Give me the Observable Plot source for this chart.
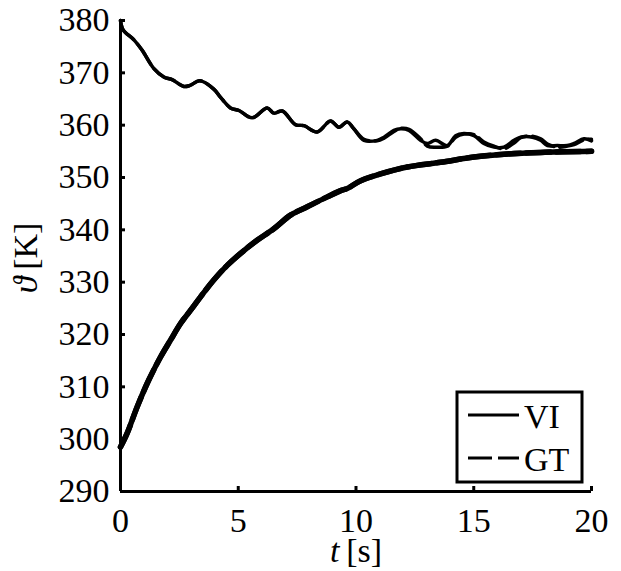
<!DOCTYPE html>
<html>
<head>
<meta charset="utf-8">
<script src="https://cdn.jsdelivr.net/npm/d3@7"></script>
<script src="https://cdn.jsdelivr.net/npm/@observablehq/plot@0.6"></script>
<style>
  html, body { margin: 0; padding: 0; background: #fff; }
  #chart svg { display: block; }
</style>
</head>
<body>
<div id="chart"></div>
<script>
// ---- data ----
const xTicks = [0, 5, 10, 15, 20];
const yTicks = [290, 300, 310, 320, 330, 340, 350, 360, 370, 380];
const xLabel = "t [s]";
const yLabel = "ϑ [K]";
const seriesNames = ["VI", "GT"];

// upper curve (hot body)
const tUpper = [0, 0.11, 0.57, 0.92, 1.42, 1.84, 2.19, 2.69, 2.95, 3.37, 3.96, 4.25, 4.67, 5.03, 5.59, 6.23, 6.51, 6.87, 7.43, 7.79, 8.35, 8.92, 9.27, 9.63, 9.91, 10.34, 10.9, 11.19, 11.61, 11.9, 12.25, 12.74, 13.03, 13.38, 13.88, 14.23, 14.58, 15.01, 15.43, 15.86, 16.28, 16.71, 16.99, 17.49, 17.84, 18.13, 18.55, 18.97, 19.26, 19.68, 20];
const viUpper = [380, 378.2, 376.3, 374.3, 370.8, 369.2, 368.7, 367.4, 367.6, 368.5, 366.9, 365.3, 363.3, 362.8, 361.4, 363.3, 362.3, 362.7, 360.1, 359.9, 358.7, 360.8, 359.6, 360.6, 359.3, 357.1, 357.1, 357.7, 359.0, 359.3, 359.0, 357.1, 356.5, 357.1, 356.1, 358.0, 358.4, 358.0, 356.5, 355.8, 355.8, 357.1, 357.7, 357.7, 357.1, 356.1, 356.1, 356.1, 356.5, 357.4, 357.0];
const gtUpper = [380, 378.2, 376.3, 374.3, 370.8, 369.2, 368.7, 367.4, 367.6, 368.5, 366.9, 365.3, 363.3, 362.8, 361.4, 363.3, 362.3, 362.7, 360.1, 359.9, 358.7, 360.8, 359.6, 360.6, 359.3, 357.3, 357.0, 357.5, 358.8, 359.4, 359.2, 357.4, 356.0, 355.8, 356.0, 357.7, 358.3, 358.2, 356.8, 356.0, 355.5, 356.6, 357.6, 357.9, 357.4, 356.4, 355.8, 356.0, 356.3, 357.2, 357.3];

// lower curve (cold body)
const tLower = [0, 0.28, 0.71, 1.2, 1.7, 2.12, 2.55, 2.97, 3.4, 3.96, 4.53, 5.1, 5.8, 6.51, 7.22, 7.93, 8.78, 9.35, 9.63, 10.2, 11.04, 12.18, 13.59, 15.01, 16.43, 17.84, 20];
const viLower = [298.5, 301.1, 306.2, 311.3, 315.7, 318.9, 322.1, 324.6, 327.2, 330.4, 333.2, 335.5, 338.0, 340.2, 342.8, 344.4, 346.3, 347.5, 347.9, 349.4, 350.7, 352.0, 352.9, 353.9, 354.5, 354.8, 355.0];
const gtLower = [298.5, 301.1, 306.2, 311.3, 315.7, 318.9, 322.1, 324.6, 327.2, 330.4, 333.2, 335.5, 338.0, 340.2, 342.8, 344.4, 346.3, 347.5, 347.9, 349.4, 350.7, 352.0, 352.9, 353.9, 354.5, 354.8, 355.0];

const toRows = (ts, vs) => ts.map((t, i) => ({t, v: vs[i]}));
const FONT = "Liberation Serif";

const plot = Plot.plot({
  width: 621,
  height: 571,
  marginLeft: 120,
  marginRight: 30,
  marginTop: 20,
  marginBottom: 80,
  style: {fontFamily: FONT, fontSize: "34px", background: "#fff", color: "#000"},
  x: {domain: [0, 20]},
  y: {domain: [290, 380]},
  marks: [
    Plot.line(toRows(tLower, viLower), {x: "t", y: "v", stroke: "#000", strokeWidth: 5.5, curve: "catmull-rom"}),
    Plot.line(toRows(tLower, gtLower), {x: "t", y: "v", stroke: "#000", strokeWidth: 5.5, strokeDasharray: "24,6", curve: "catmull-rom"}),
    Plot.line(toRows(tUpper, viUpper), {x: "t", y: "v", stroke: "#000", strokeWidth: 3.5, curve: "catmull-rom"}),
    Plot.line(toRows(tUpper, gtUpper), {x: "t", y: "v", stroke: "#000", strokeWidth: 3.5, strokeDasharray: "24,6", curve: "catmull-rom"}),
    Plot.axisX(xTicks, {tickSize: -5, tickPadding: 21, strokeWidth: 3, label: null, fontSize: 34}),
    Plot.axisY(yTicks, {tickSize: -5, tickPadding: 16, strokeWidth: 3, label: null, fontSize: 34}),
    Plot.ruleX([0], {stroke: "#000", strokeWidth: 3}),
    Plot.ruleY([290], {stroke: "#000", strokeWidth: 3}),
    Plot.text([xLabel], {text: d => d, frameAnchor: "bottom", textAnchor: "middle", lineAnchor: "middle", dy: 60, fontSize: 34}),
    Plot.text([yLabel], {text: d => d, frameAnchor: "left", textAnchor: "middle", lineAnchor: "middle", rotate: -90, dx: -94, dy: 2, fontSize: 34})
  ]
});

document.getElementById("chart").appendChild(plot);
const svg = d3.select(plot);

// italic math symbols in axis labels
svg.selectAll("text").each(function() {
  const el = d3.select(this);
  const s = el.text();
  if (s === xLabel) {
    el.text(null);
    el.append("tspan").style("font-style", "italic").text("t");
    el.append("tspan").text("\u2009[s]");
  } else if (s === yLabel) {
    el.text(null);
    el.append("tspan").style("font-style", "italic").text("ϑ");
    el.append("tspan").text("\u2009[K]");
  }
});

// legend box (bottom-right, inside the plot)
const lg = svg.append("g").attr("font-size", 34).attr("text-anchor", "start");
lg.append("rect").attr("x", 457).attr("y", 392).attr("width", 125).attr("height", 90)
  .attr("fill", "#fff").attr("stroke", "#000").attr("stroke-width", 3);
lg.append("line").attr("x1", 468).attr("x2", 519).attr("y1", 415).attr("y2", 415)
  .attr("stroke", "#000").attr("stroke-width", 3);
lg.append("line").attr("x1", 468).attr("x2", 519).attr("y1", 458).attr("y2", 458)
  .attr("stroke", "#000").attr("stroke-width", 3).attr("stroke-dasharray", "24,6");
lg.append("text").attr("x", 524).attr("y", 428).text(seriesNames[0]);
lg.append("text").attr("x", 524).attr("y", 471).text(seriesNames[1]);

// serif face on every text node
svg.selectAll("text, tspan").attr("font-family", FONT).style("font-family", FONT);
</script>
</body>
</html>
